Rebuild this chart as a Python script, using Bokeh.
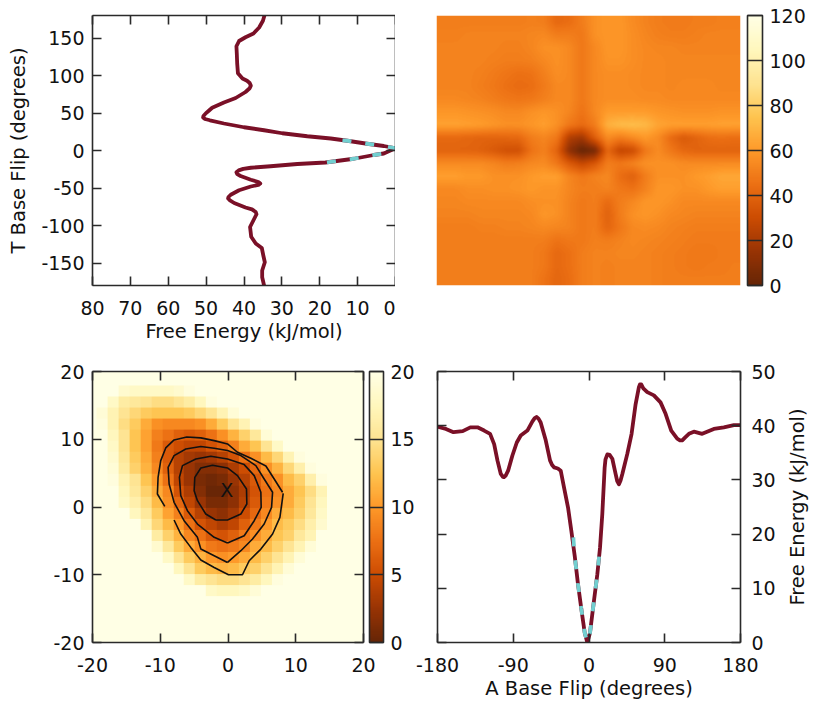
import numpy as np
from bokeh.plotting import figure
from bokeh.layouts import column, row
from bokeh.models import (LinearAxis, FixedTicker, Range1d, LinearColorMapper, ColorBar)
from bokeh.embed import file_html
from bokeh.resources import INLINE
from bokeh.core.properties import value

# ---- data ----
t_energy = [34.6,35.0,36.0,37.5,39.6,41.3,42.0,41.9,41.8,41.6,40.4,39.2,38.5,38.2,38.5,39.6,42.2,45.3,48.4,49.3,50.1,50.7,50.8,50.3,49.0,45.3,40.0,34.7,29.9,23.3,17.1,12.7,7.5,3.1,0.0,3.1,5.7,11.0,18.5,25.9,33.0,38.2,40.2,41.4,42.0,41.8,40.9,38.2,36.2,35.7,36.2,38.2,41.3,43.5,44.1,44.2,43.7,42.6,39.6,37.9,36.9,36.7,37.2,37.8,38.4,38.1,36.9,35.3,34.9,34.5,35.2,35.2,34.7]
t_angle = [180,173,164,156,151,146,139,129,116,103,96,93,90,86.5,83,78,70,64,57,53,49.5,46,44,42,40.3,36,31,27,23,19,16,13,9,6,3,-4,-6,-11,-16,-18,-21,-23,-24.5,-26.5,-29,-31.5,-34,-39,-42,-44,-45.8,-48,-53,-59,-62,-64,-66.5,-70,-76,-78.5,-82,-85,-90,-96,-102,-115,-124,-130,-140,-149,-160,-169,-180]
t_fit_energy = [14.0,12.7,7.5,3.1,0.0,3.1,5.7,11.0,18.5]
t_fit_angle = [13.6,13,9,6,3,-4,-6,-11,-16]

a_angle = [-180,-170,-161,-150,-141,-132.5,-124.6,-117.5,-112.7,-108.8,-104.8,-102.5,-101,-99,-96.1,-91,-85.8,-81.1,-73.2,-67.2,-64.5,-62.1,-60,-57.4,-51.4,-46.3,-44,-41.5,-37,-33.6,-29.7,-24.9,-21,-17,-13.1,-9.1,-5.1,-2,1.2,5.9,9.9,13.1,15.8,18.6,19.6,21.8,24.5,27.7,31.6,33.5,35.6,37.5,39.6,45.5,50.6,55.4,59.3,60.5,62.1,64.5,69.2,77.1,85,91,97.7,104.8,108,110.8,114,118.7,124.6,134.5,148.3,160.2,172.1,180]
a_energy = [39.8,39.4,38.8,39.0,39.7,39.7,39.1,38.5,36.6,33.6,31.1,30.6,30.5,30.8,31.7,34.5,36.9,38.2,39.1,40.8,41.4,41.6,41.3,40.6,37.3,33.6,32.8,32.3,32.1,31.7,28.6,24.9,20.6,16,10.8,6.2,1.8,0,1.8,7.7,12.6,17.5,23.7,32.3,33.8,34.7,34.6,33.9,31.1,29.8,29.2,29.9,31.1,34.8,38.5,44,47.1,47.6,47.6,46.9,46.2,45.6,44.3,42.2,39.1,37.6,37.3,37.3,37.8,38.5,38.9,38.5,39.4,39.7,40.1,40.1]
a_fit_angle = [-18.6,-17,-13.1,-9.1,-5.1,-2,1.2,5.9,9.9,12.8]
a_fit_energy = [19.4,16,10.8,6.2,1.8,0,1.8,7.7,12.6,17.2]

wide_map = [
[50,50,50,50,50,50,50,51,50,42,44,50,57,59,59,55,52,50,49,49,50,50,51,51],
[51,51,52,52,52,52,52,53,54,50,50,48,57,59,59,56,53,51,50,50,51,52,52,52],
[52,52,52,52,52,51,51,53,57,57,54,48,54,59,59,56,54,53,53,52,52,52,52,52],
[52,52,52,52,51,50,50,51,54,57,54,48,54,58,58,56,54,54,53,53,53,53,53,53],
[52,52,52,51,49,47,45,46,51,56,54,48,54,56,56,55,54,54,53,53,53,53,53,53],
[52,52,52,50,48,45,43,44,49,54,54,48,54,56,56,55,54,54,53,54,54,54,53,53],
[54,54,53,52,50,48,47,48,51,54,54,48,54,56,56,56,55,55,54,54,54,54,54,54],
[59,59,58,57,56,54,54,57,59,57,53,46,54,61,61,61,61,59,58,57,57,57,58,58],
[63,63,62,61,59,57,57,59,62,57,48,43,50,68,72,73,71,64,62,62,62,62,63,63],
[42,42,41,40,40,41,42,50,53,48,22,18,38,55,50,55,60,55,43,36,40,44,45,44],
[40,40,40,39,36,32,32,46,51,40,12,0,5,42,27,30,48,55,48,42,40,40,40,40],
[55,55,55,55,53,50,51,54,55,48,36,28,35,50,48,52,57,57,57,55,55,55,55,55],
[62,62,60,60,57,57,57,60,62,62,53,48,52,54,44,39,50,57,57,57,60,62,65,65],
[54,54,56,56,57,57,58,60,58,58,53,50,50,52,48,46,52,59,59,57,57,60,62,62],
[53,53,54,54,54,54,54,56,57,57,52,48,50,43,50,54,59,59,57,54,54,54,54,54],
[52,52,52,53,53,53,53,54,59,57,52,48,50,39,50,57,59,57,54,53,52,52,52,52],
[50,50,50,51,51,52,52,53,54,53,52,48,50,41,48,54,55,54,52,51,50,50,50,50],
[50,50,50,50,50,50,50,50,50,46,48,48,51,50,52,54,53,52,51,50,49,49,49,49],
[50,50,50,50,50,50,50,50,48,42,45,50,52,52,53,53,52,51,50,49,48,48,49,49],
[50,50,50,50,50,50,50,50,48,42,45,50,52,51,52,52,52,51,50,49,48,49,49,50],
[50,50,50,50,50,50,50,50,46,41,44,50,52,51,52,52,52,51,50,50,50,50,50,50],
]

zoom_map = [
[20]*26,
[20]*26,
[20,20,20,18.5,18,18,18,18,18.5,19.5,20,20,20,20,20,20,20,20,20,20,20,20,20,20,20,20],
[20,20,18,16,15.5,15,14.5,14.5,15,16,17.5,19.5,20,20,20,20,20,20,20,20,20,20,20,20,20,20],
[20,19,17,15,14,13,12.5,12.5,12.5,13,14,15,17,19,20,20,20,20,20,20,20,20,20,20,20,20],
[20,19.5,17,14.5,13,11,9.5,9,9,9,9.5,11,13,15,17,19.5,20,20,20,20,20,20,20,20,20,20],
[20,20,17.5,15,12.5,10.5,8.5,7.5,6.5,6,6.5,7.5,9.5,11.5,13.5,15.5,19,20,20,20,20,20,20,20,20,20],
[20,20,18,15,12.5,10.5,8,6,5,4.5,4.5,5.5,6.5,8.5,11,12.5,15,18,20,20,20,20,20,20,20,20],
[20,20,18.5,15.5,13,11,8.5,6,4,3,2.5,3,4,5.5,7.5,9.5,12,14,17,19.5,20,20,20,20,20,20],
[20,20,19,16,13.5,11.5,9,6.5,4,2.5,1.5,1.5,2,3.5,5,7,9.5,11.5,14,16.5,19.5,20,20,20,20,20],
[20,20,19.5,17,15,12.5,10,7.5,4.5,2.5,1,0.5,1,2.5,4,6,8,9.5,12,13.5,16.5,19.5,20,20,20,20],
[20,20,20,17.5,15.5,13.5,11,9,5.5,3.5,1.5,0.3,0.2,2,3.5,5.5,7.5,9,11,12.5,14.5,17,20,20,20,20],
[20,20,20,18,16.5,14.5,12,9.5,7,4.5,2.5,1,1,2,4,6,8,9.5,11,13,15,17.5,20,20,20,20],
[20,20,20,20,17.5,15.5,13,10.5,8.5,6,4,2.5,2,3,5,7,9,11,12,13.5,15.5,18,20,20,20,20],
[20,20,20,20,20,17,14,12,10,7.5,5.5,4.5,3.5,4.5,6.5,8,10,12,13,14.5,16.5,18.5,20,20,20,20],
[20,20,20,20,20,20,16,13.5,11.5,9,7.5,6,5.5,6.5,8,9.5,11,12.5,13.5,15.5,17,20,20,20,20,20],
[20,20,20,20,20,20,18.5,15.5,13,11,9.5,8,7.5,8,9,11,12,13.5,15,17,19,20,20,20,20,20],
[20,20,20,20,20,20,20,18,15,13,11.5,10,9.5,10,11,12,13.5,15,17,19,20,20,20,20,20,20],
[20,20,20,20,20,20,20,20,17.5,15,13,12,11.5,12,13,13.5,15,17,19,20,20,20,20,20,20,20],
[20,20,20,20,20,20,20,20,20,18,16,15,14.5,14.5,15,16,17.5,19.5,20,20,20,20,20,20,20,20],
[20,20,20,20,20,20,20,20,20,20,20,18,17.5,17.5,18,19,20,20,20,20,20,20,20,20,20,20],
[20]*26,[20]*26,[20]*26,[20]*26,[20]*26,
]

contour_xs = [
[-9.33,-10.42,-10.32,-9.93,-9.19,-7.96,-6.08,-4.01,-2.04,-0.07,1.4,3.37,5.59,6.82,8.05],
[8.15,7.66,6.58,4.85,3.13,2.14,0.07,-2.04,-4.01,-5.49,-6.97,-7.96],
[-0.07,-4.01,-4.51,-6.48,-7.96,-8.69,-8.84,-7.96,-6.23,-4.01,-2.04,-0.07,1.9,4.11,5.34,6.58,6.43,5.34,3.62,1.9,-0.07],
[-0.07,-2.04,-4.51,-5.99,-6.97,-7.17,-6.72,-4.75,-2.54,-0.07,2.39,3.87,4.85,4.9,3.87,2.39,-0.07],
[-1.8,-3.28,-4.51,-5,-4.9,-4.01,-2.29,-0.07,1.4,2.73,2.78,1.9,-0.07,-1.8],
]
contour_ys = [
[0.1,1.92,4.38,6.85,8.72,9.9,10.34,10.2,9.8,9.31,8.08,7.19,6.06,4.14,2.17],
[2.02,-1.53,-3.99,-6.21,-7.93,-10,-10,-8.92,-7.83,-5.96,-3.99,-1.92],
[-8.18,-6.21,-4.48,-2.02,0.69,3.4,5.86,7.59,8.57,8.92,8.67,8.33,7.59,6.11,4.14,2.17,-0.05,-2.51,-4.73,-6.45,-8.18],
[-5.32,-4.48,-2.51,-0.54,1.67,4.38,6.11,7.09,7.49,7.09,6.26,4.63,2.17,-0.05,-2.02,-4.24,-5.32],
[-1.92,-1.03,0.94,2.41,4.38,5.76,6.16,5.76,4.63,2.66,0.44,-1.03,-1.92,-1.92],
]
minimum_x = [-0.2]
minimum_y = [2.56]
minimum_label = ["X"]

energy_ticks = [80,70,60,50,40,30,20,10,0]
flip_ticks = [-150,-100,-50,0,50,100,150]
zoom_ticks = [-20,-10,0,10,20]
a_ticks = [-180,-90,0,90,180]
a_energy_ticks = [0,10,20,30,40,50]
wide_bar_ticks = [0,20,40,60,80,100,120]
zoom_bar_ticks = [0,5,10,15,20]

# ---- styling ----
STOPS = ["#662506","#993404","#CC4C02","#EC7014","#FE9929","#FEC44F","#FEE391","#FFF7BC","#FFFFE5"]
rgb = np.array([[int(c[i:i+2],16) for i in (1,3,5)] for c in STOPS], float)
pos = np.linspace(0,1,9)
t = np.linspace(0,1,128)
PAL = ["#%02x%02x%02x" % tuple(int(round(np.interp(v,pos,rgb[:,k]))) for k in range(3)) for v in t]

FONT = "DejaVu Sans"
FS = "19px"
FSL = "19.5px"
DARK = "#2a2a2a"
LINE = "#7a1027"
TEAL = "#72cfd0"

def style_axis(ax, ticks, labels=True, standoff=8):
    ax.ticker = FixedTicker(ticks=ticks)
    ax.major_tick_in = 9
    ax.major_tick_out = 0
    ax.minor_tick_in = 0
    ax.minor_tick_out = 0
    ax.axis_line_color = DARK
    ax.axis_line_width = 1.6
    ax.major_tick_line_color = DARK
    ax.major_tick_line_width = 1.6
    ax.major_label_text_font = FONT
    ax.major_label_text_color = "#111111"
    ax.axis_label_text_font = FONT
    ax.axis_label_text_font_style = "normal"
    ax.axis_label_text_font_size = FSL
    ax.axis_label_text_color = "#111111"
    if labels:
        ax.major_label_text_font_size = FS
        ax.major_label_standoff = standoff
        ax.major_label_overrides = {v: str(v) for v in ticks}
    else:
        ax.major_label_text_font_size = "0px"
        ax.major_label_text_color = None
        ax.major_label_standoff = 0

def frame(xr, yr, w, h, l, r, t_, b):
    p = figure(x_range=Range1d(*xr), y_range=Range1d(*yr), frame_width=w, frame_height=h,
               min_border_left=l, min_border_right=r, min_border_top=t_, min_border_bottom=b,
               output_backend="svg", toolbar_location=None, x_axis_location=None, y_axis_location=None)
    p.grid.visible = False
    p.outline_line_color = None
    p.background_fill_color = None
    return p

def box_axes(p, xticks, yticks, labels_x=True, labels_left=True, labels_right=False):
    b = LinearAxis(); style_axis(b, xticks, labels_x, 15); b.axis_label_standoff = 2; p.add_layout(b, "below")
    a = LinearAxis(); style_axis(a, xticks, False); p.add_layout(a, "above")
    l = LinearAxis(); style_axis(l, yticks, labels_left); l.axis_label_standoff = 8; p.add_layout(l, "left")
    r = LinearAxis(); style_axis(r, yticks, labels_right, 11); p.add_layout(r, "right")
    return b, a, l, r

def bar(mapper, ticks, x, w, h):
    cb = ColorBar(color_mapper=mapper, ticker=FixedTicker(ticks=ticks), location=(x,0), width=w, height=h,
                  padding=0, margin=0, background_fill_color=None, border_line_color=None,
                  bar_line_color=DARK, bar_line_width=1.6, major_tick_in=w, major_tick_out=0,
                  major_tick_line_color=DARK, major_tick_line_width=1.4, minor_tick_in=0, minor_tick_out=0,
                  major_label_text_font=FONT, major_label_text_font_size=FS, major_label_text_color="#111111",
                  label_standoff=7)
    return cb

def display_smooth(grid, w, h):
    # display resampling of the read-off grid to the frame's pixels (pm3d-like interpolation)
    g = np.array(grid, float)
    ny, nx = g.shape
    xs = (np.arange(w) + .5) / w * nx - .5
    ys = (np.arange(h) + .5) / h * ny - .5
    a = np.array([np.interp(xs, np.arange(nx), r) for r in g])
    a = np.array([np.interp(ys, np.arange(ny), c) for c in a.T]).T
    k = np.ones(5) / 5
    pad = np.pad(a, 3, mode="edge")
    pad = np.apply_along_axis(lambda v: np.convolve(v, k, "same"), 0, pad)
    pad = np.apply_along_axis(lambda v: np.convolve(v, k, "same"), 1, pad)
    return pad[3:-3, 3:-3]

# ---- top left ----
p1 = frame((80,0),(-180,180),303,270,92,0,15,66)
b,a,l,r = box_axes(p1, energy_ticks, flip_ticks)
b.axis_label = "Free Energy (kJ/mol)"
l.axis_label = "T Base Flip (degrees)"
p1.line(t_energy, t_angle, line_color=LINE, line_width=3.8, line_join="round")
p1.line(t_fit_energy, t_fit_angle, line_color=TEAL, line_width=3.8, line_dash="9 14")

# ---- top right ----
p2 = frame((-180,180),(-180,180),304,270,41,75,15,66)
wide_mapper = LinearColorMapper(palette=PAL, low=0, high=120)
p2.image(image=[np.flipud(display_smooth(wide_map, 304, 270))], x=-180, y=-180, dw=360, dh=360, color_mapper=wide_mapper)
p2.add_layout(bar(wide_mapper, wide_bar_ticks, 311, 15, 270), "center")

# ---- bottom left ----
p3 = frame((-20,20),(-20,20),271,271,92,52,20,60)
zoom_mapper = LinearColorMapper(palette=PAL, low=0, high=20)
p3.image(image=[np.flipud(np.array(zoom_map,float))], x=-21.03, y=-21.3, dw=42.0, dh=42.34, color_mapper=zoom_mapper)
box_axes(p3, zoom_ticks, zoom_ticks)
p3.multi_line(contour_xs, contour_ys, line_color="#111111", line_width=1.6)
p3.text(minimum_x, minimum_y, text=minimum_label, text_align="center", text_baseline="middle",
        text_font=value(FONT), text_font_size=FS, text_color="#111111")
p3.add_layout(bar(zoom_mapper, zoom_bar_ticks, 277, 14, 271), "center")

# ---- bottom right ----
p4 = frame((-180,180),(0,50),303,271,22,39,20,60)
b,a,l,r = box_axes(p4, a_ticks, a_energy_ticks, True, False, True)
b.axis_label = "A Base Flip (degrees)"
p4.line(a_angle, a_energy, line_color=LINE, line_width=3.8, line_join="round")
p4.line(a_fit_angle, a_fit_energy, line_color=TEAL, line_width=3.8, line_dash="9 14")

# narrow strip holding the right-hand axis title, which reads upward
p5 = frame((0,1),(0,1),36,271,0,0,20,60)
p5.text([0.5],[0.5], text=["Free Energy (kJ/mol)"], angle=np.pi/2, text_align="center", text_baseline="middle",
        text_font=value(FONT), text_font_size=FSL, text_color="#111111")

page = column(row(p1,p2,spacing=0), row(p3,p4,p5,spacing=0), spacing=0)
open("out.html","w").write(file_html(page, INLINE))
